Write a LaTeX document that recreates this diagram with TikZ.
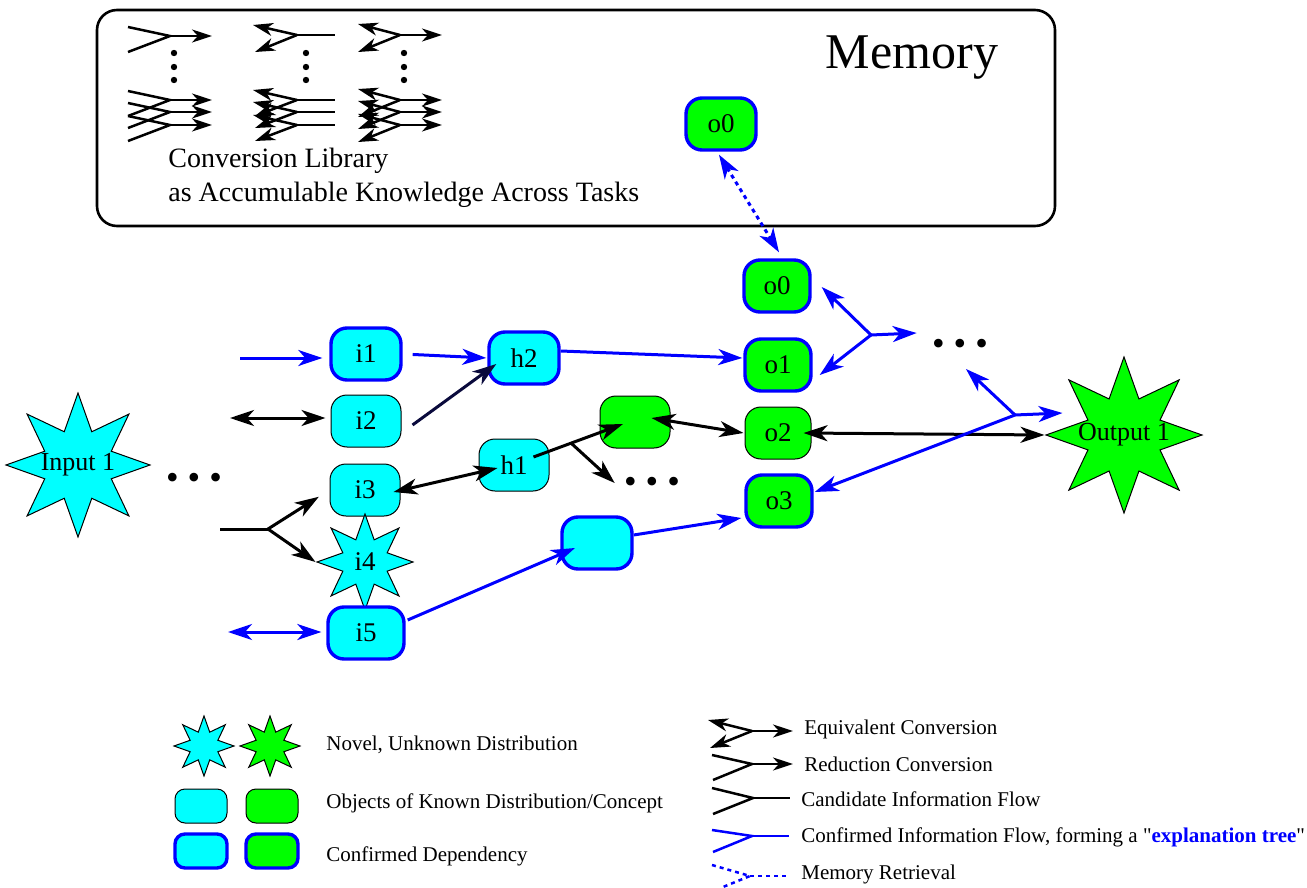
\documentclass[tikz,border=0pt]{standalone}
\usepackage{fontspec}
\setmainfont{LiberationSerif}[Extension=.ttf,UprightFont=*-Regular,BoldFont=*-Bold,ItalicFont=*-Italic,BoldItalicFont=*-BoldItalic]
\newfontfamily\quotefam{LiberationSerif}[Extension=.ttf,UprightFont=*-Regular,BoldFont=*-Bold]
\usetikzlibrary{arrows.meta,shapes.geometric,calc}
\definecolor{navyln}{RGB}{10,10,60}
\definecolor{cyanc}{RGB}{0,255,255}
\definecolor{greenc}{RGB}{0,255,0}
\definecolor{bluec}{RGB}{0,0,255}
\begin{document}
\begin{tikzpicture}[x=0.5pt,y=-0.5pt,
  >={Stealth[length=12pt,width=8pt,inset=3.5pt]},
  nfont/.style={font=\fontsize{13.5}{16}\selectfont},
  box/.style={draw=black,line width=0.5pt,rounded corners=8pt,minimum width=35pt,minimum height=26pt,inner sep=0pt,nfont},
  lbox/.style={draw=black,line width=0.5pt,rounded corners=5pt,minimum width=26pt,minimum height=17pt,inner sep=0pt},
  cyf/.style={fill=cyanc}, grf/.style={fill=greenc},
  conf/.style={draw=bluec,line width=1.7pt},
  starn/.style={star,star points=8,star point ratio=2,draw=black,line width=0.5pt,inner sep=0pt},
  ar/.style={line width=1.5pt,draw=black},
  bl/.style={line width=1.5pt,draw=bluec},
  nv/.style={line width=1.5pt,draw=navyln},
  dotl/.style={dash pattern=on 2pt off 2pt},
  gl/.style={line width=1.25pt},
  gtip/.style={>={Stealth[length=10pt,width=6.5pt,inset=3pt]}},
  dotsn/.style={inner sep=0pt,font=\fontsize{18}{18}\selectfont},
  legtxt/.style={anchor=west,inner sep=0pt,font=\fontsize{10.5}{12}\selectfont}
]
\useasboundingbox (0,0) rectangle (1307,888);

% ---------- memory box ----------
\node[draw,line width=1.3pt,rounded corners=10pt,minimum width=479pt,minimum height=108pt,inner sep=0pt] (mem) at (576,118) {};
\node[inner sep=0pt,font=\fontsize{25}{28}\selectfont] (memt) at (912,58) {Memory};
\node[anchor=west,align=left,inner sep=0pt,font=\fontsize{14}{17}\selectfont] (libt) at (168,178) {Conversion Library\\as Accumulable Knowledge Across Tasks};
\node[box,grf,conf] (mo0) at (721,124) {o0};

% library glyphs
\begin{scope}[gl,gtip]
  % column 1: reduction
  \draw (128,27) -- (170,36) -- (128,52);
  \draw[->] (170,36) -- (212,36);
  \foreach \yy in {100,112,125}{
    \draw (128,\yy-9) -- (170,\yy) -- (128,\yy+16);
    \draw[->] (170,\yy) -- (212,\yy);
  }
  % column 2: reverse
  \draw (297,35) -- (335,35);
  \draw[->] (297,35) -- (253,25);
  \draw[->] (297,35) -- (255,52);
  \foreach \yy in {100,112,125}{
    \draw (297,\yy) -- (335,\yy);
    \draw[->] (297,\yy) -- (253,\yy-10);
    \draw[->] (297,\yy) -- (255,\yy+16);
  }
  % column 3: equivalent
  \draw[->] (400,35) -- (442,35);
  \draw[->] (400,35) -- (358,24);
  \draw[->] (400,35) -- (358,52);
  \foreach \yy in {100,112,125}{
    \draw[->] (400,\yy) -- (442,\yy);
    \draw[->] (400,\yy) -- (358,\yy-11);
    \draw[->] (400,\yy) -- (358,\yy+17);
  }
\end{scope}
\foreach \xx in {174,306,404}{
  \foreach \yy in {53,67,80}{ \fill (\xx,\yy) circle (3.2); }
}

% ---------- main nodes ----------
\node[starn,fill=cyanc,minimum size=72pt,label={[font=\fontsize{13}{15}\selectfont]center:Input 1}] (in1) at (78,465) {};
\node[starn,fill=greenc,minimum size=78pt,label={[font=\fontsize{13}{15}\selectfont]center:Output 1}] (out1) at (1124,435) {};

\node[box,cyf,conf] (i1) at (366,354) {i1};
\node[box,cyf] (i2) at (366,421) {i2};
\node[box,cyf] (i3) at (365,490) {i3};
\node[starn,fill=cyanc,minimum size=48pt,label={[nfont]center:i4}] (i4) at (365,562) {};
\node[box,cyf,conf,minimum width=38pt] (i5) at (366,633) {i5};
\node[box,cyf,conf] (h2) at (524,358) {h2};
\node[box,cyf] (h1) at (514,465) {h1};
\node[box,grf] (gb) at (635,422) {};
\node[box,cyf,conf] (cb) at (597,543) {};
\node[box,grf,conf,minimum width=33pt] (o0) at (777,286) {o0};
\node[box,grf,conf,minimum width=33pt] (o1) at (778,365) {o1};
\node[box,grf,minimum width=33pt] (o2) at (778,433) {o2};
\node[box,grf,conf,minimum width=33pt] (o3) at (779,501) {o3};

\node[dotsn] (dotsA) at (194,481) {•\hspace{4.5pt}•\hspace{4.5pt}•};
\node[dotsn] (dotsB) at (652,485) {•\hspace{4.5pt}•\hspace{4.5pt}•};
\node[dotsn] (dotsC) at (960,347) {•\hspace{4.5pt}•\hspace{4.5pt}•};

% ---------- connectors ----------
\coordinate (c1) at (240,358);
\coordinate (c2) at (230,418);
\coordinate (c3) at (220,529);
\coordinate (j3) at (268,529);
\coordinate (c4) at (228,632);

\draw[bl,->,shorten >=3.5pt] (c1) -- (c1 -| i1.west);
\draw[ar,<->,shorten >=2.5pt] (c2) -- (c2 -| i2.west);
\draw[ar] (c3) -- (j3);
\draw[ar,->,shorten >=6.3pt] (j3) -- (i3.west);
\draw[ar,->] (j3) -- (i4.outer point 3);
\draw[bl,<->,shorten >=2.5pt] (c4) -- (c4 -| i5.west);

\draw[bl,->,shorten <=5pt,shorten >=0.5pt] (i1.east) -- (h2.west);
\draw[nv,->] ($(i2.east)+(11,4)$) -- ($(h2.west)+(9,6)$);
\draw[ar,<->] ($(i3.east)+(-7,2)$) -- ($(h1.west)+(19,3)$);

\coordinate (h1s) at ($(h1.east)+(-16,-8)$);
\coordinate (gbt) at ($(gb.center)+(-12,2)$);
\draw[ar,->] (h1s) -- (gbt);
\coordinate (j8) at ($(h1s)!0.42!(gbt)$);
\draw[ar,->] (j8) -- ($(dotsB.west)+(-9,-2)$);

\draw[ar,<->] ($(gb.east)+(-19,-4)$) -- ($(o2.west)+(-1,0)$);
\draw[bl,->] ($(h2.east)+(0,-7)$) -- ($(o1.west)+(-1,-7)$);
\draw[bl,->] ($(cb.east)+(0,-8)$) -- ($(o3.west)+(-3,17)$);
\draw[bl,->] ($(i5.east)+(2,-13)$) -- ($(cb.center)+(-22,5)$);
\draw[ar,<->] ($(o2.east)+(-8,0)$) -- (out1.west);

\coordinate (j14) at (1015,415);
\draw[bl,->] (j14) -- ($(o3.east)+(1,-9)$);
\draw[bl,->] (j14) -- ($(out1.west)+(18,-22)$);
\draw[bl,->] (j14) -- ($(dotsC.center)+(6,22)$);

\coordinate (j15) at (871,335);
\draw[bl,->] (j15) -- ($(o0.east)+(10,1)$);
\draw[bl,->] (j15) -- ($(o1.east)+(7,10)$);
\draw[bl,->] (j15) -- ($(dotsC.west)+(-15,-14)$);

\draw[bl,dotl,<->] ($(mo0.south)+(-2,3)$) -- ($(o0.north)+(2,-6)$);

% ---------- legend left ----------
\node[starn,fill=cyanc,minimum size=30pt] (ls1) at (204,746) {};
\node[starn,fill=greenc,minimum size=30pt] (ls2) at (270,746) {};
\node[lbox,fill=cyanc] (lb1) at (201,806) {};
\node[lbox,fill=greenc] (lb2) at (272,806) {};
\node[lbox,fill=cyanc,draw=bluec,line width=1.7pt] (lb3) at (201,851) {};
\node[lbox,fill=greenc,draw=bluec,line width=1.7pt] (lb4) at (272,851) {};
\node[legtxt] (lt1) at (326,745) {Novel, Unknown Distribution};
\node[legtxt] (lt2) at (326,803) {Objects of Known Distribution/Concept};
\node[legtxt] (lt3) at (326,856) {Confirmed Dependency};

% ---------- legend right ----------
\begin{scope}[gl,gtip]
  \draw[->] (752,731) -- (793,731);
  \draw[->] (752,731) -- (708,720);
  \draw[->] (752,731) -- (710,748);
  \draw (712,755) -- (752,764) -- (713,780);
  \draw[->] (752,764) -- (793,764);
  \draw (712,788) -- (753,798) -- (713,814);
  \draw (753,798) -- (790,798);
  \draw[bluec] (712,830) -- (752,836) -- (713,852);
  \draw[bluec] (752,836) -- (789,836);
  \draw[bluec,dotl] (712,865) -- (750,876) -- (723,887);
  \draw[bluec,dotl] (750,876) -- (789,876);
\end{scope}
\node[legtxt] (rt1) at (804,729) {Equivalent Conversion};
\node[legtxt] (rt2) at (804,764) {Reduction Conversion};
\node[legtxt] (rt3) at (801,799) {Candidate Information Flow};
\node[legtxt] (rt4) at (801,837) {Confirmed Information Flow, forming a {\quotefam"}\textcolor{bluec}{\textbf{explanation tree}}{\quotefam"}};
\node[legtxt] (rt5) at (801,874) {Memory Retrieval};
\end{tikzpicture}
\end{document}
